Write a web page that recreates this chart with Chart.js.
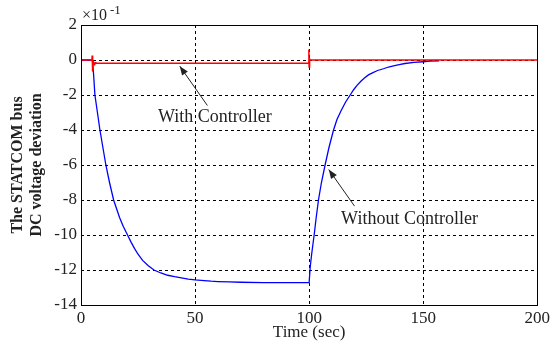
<!DOCTYPE html>
<html>
<head>
<meta charset="utf-8">
<script src="https://cdn.jsdelivr.net/npm/chart.js@4"></script>
<style>
  html, body { margin: 0; padding: 0; background: #fff; }
  canvas { display: block; }
</style>
</head>
<body>
<canvas id="myChart" width="553" height="343"></canvas>
<script>
"use strict";

// tick labels
const xTicks = [0, 50, 100, 150, 200];
const yTicks = [2, 0, -2, -4, -6, -8, -10, -12, -14];

// without controller (blue), units of 1e-1
const blueT = [0, 5, 5.5, 6.1, 7.2, 8.3, 9.6, 10.9, 12.5, 14.3, 16.9, 18.5, 20.4, 22, 23.5, 25, 27, 29.5, 32, 35, 38, 41, 44, 47, 50,
    54, 57, 60, 65, 70, 80, 100,
    100.5, 101.2, 102.2, 103.1, 104.1, 105.4, 107, 108.7, 110.7, 112.2, 114, 116, 118, 119.5, 121, 122.8, 124.5, 126, 128, 130,
    132.6, 134.8, 137, 139.5, 142, 146, 150, 153, 157];
const blueV = [0, 0, -0.8, -2, -3, -4, -5, -6, -7, -8, -9, -9.5, -10, -10.42, -10.78, -11.1, -11.45, -11.76, -12, -12.17, -12.3, -12.38, -12.45, -12.52, -12.57,
    -12.61, -12.64, -12.66, -12.68, -12.7, -12.72, -12.72,
    -11.8, -11, -10, -9, -8, -7, -6, -5, -4, -3.4, -2.9, -2.4, -2, -1.7, -1.45, -1.2, -1.0, -0.85, -0.72, -0.6,
    -0.5, -0.4, -0.33, -0.26, -0.2, -0.14, -0.1, -0.07, -0.05];

// with controller (red)
const redT = [0, 4.8, 4.9, 5.0, 5.1, 5.2, 5.4, 6, 6.3, 7, 99.8, 99.9, 100, 100.1, 100.3, 100.6, 200];
const redV = [0, 0, 0.26, -0.65, 0.2, -0.5, -0.1, -0.25, -0.15, -0.18, -0.18, 0.6, -0.4, 0.1, 0, 0, 0];

const serif = "'Liberation Serif', 'Times New Roman', serif";

// labels with arrows, in data units
const notes = [
    { text: "With Controller", tx: 58.7, ty: -3.29, ax: 55.4, ay: -2.6, hx: 43.3, hy: -0.35 },
    { text: "Without Controller", tx: 144, ty: -9.11, ax: 119.9, ay: -8.35, hx: 108.6, hy: -6.26 }
];

function toPoints(xs, ys) {
    return xs.map((x, i) => ({ x: x, y: ys[i] }));
}

const extras = {
    id: "extras",
    beforeDraw(chart) {
        const ctx = chart.ctx;
        ctx.save();
        ctx.fillStyle = "#fff";
        ctx.fillRect(0, 0, chart.width, chart.height);
        ctx.restore();
    },
    afterDraw(chart) {
        const ctx = chart.ctx;
        const a = chart.chartArea;
        const xs = chart.scales.x;
        const ys = chart.scales.y;
        ctx.save();

        // box
        ctx.strokeStyle = "#000";
        ctx.lineWidth = 1;
        ctx.strokeRect(Math.round(a.left) + 0.5, Math.round(a.top) + 0.5,
            Math.round(a.right - a.left), Math.round(a.bottom - a.top));

        ctx.fillStyle = "#222";
        // x title
        ctx.font = "17px " + serif;
        ctx.textAlign = "center";
        ctx.textBaseline = "middle";
        ctx.fillText("Time (sec)", (a.left + a.right) / 2, 333);

        // y title
        ctx.save();
        ctx.translate(18, (a.top + a.bottom) / 2);
        ctx.rotate(-Math.PI / 2);
        ctx.font = "bold 16px " + serif;
        ctx.fillText("The STATCOM bus", 0, 0);
        ctx.fillText("DC voltage deviation", 0, 19);
        ctx.restore();

        // exponent
        ctx.textAlign = "left";
        ctx.font = "16px " + serif;
        ctx.fillText("\u00d710", a.left + 1, 16);
        ctx.font = "13px " + serif;
        ctx.fillText("-1", a.left + 29, 11);

        // annotations
        ctx.font = "18px " + serif;
        ctx.textAlign = "center";
        notes.forEach(n => {
            ctx.fillStyle = "#222";
            ctx.fillText(n.text, xs.getPixelForValue(n.tx), ys.getPixelForValue(n.ty));
            const x1 = xs.getPixelForValue(n.ax), y1 = ys.getPixelForValue(n.ay);
            const x2 = xs.getPixelForValue(n.hx), y2 = ys.getPixelForValue(n.hy);
            ctx.strokeStyle = "#222";
            ctx.lineWidth = 1;
            ctx.beginPath();
            ctx.moveTo(x1, y1);
            ctx.lineTo(x2, y2);
            ctx.stroke();
            const ang = Math.atan2(y2 - y1, x2 - x1);
            const len = 9, wid = 3.5;
            ctx.beginPath();
            ctx.moveTo(x2, y2);
            ctx.lineTo(x2 - len * Math.cos(ang) + wid * Math.sin(ang), y2 - len * Math.sin(ang) - wid * Math.cos(ang));
            ctx.lineTo(x2 - len * Math.cos(ang) - wid * Math.sin(ang), y2 - len * Math.sin(ang) + wid * Math.cos(ang));
            ctx.closePath();
            ctx.fill();
        });
        ctx.restore();
    }
};

const ctx = document.getElementById("myChart").getContext("2d");
new Chart(ctx, {
    type: "scatter",
    data: {
        datasets: [{
            label: "With Controller",
            data: toPoints(redT, redV),
            showLine: true,
            borderColor: "rgb(255,0,0)",
            borderWidth: 1.5,
            pointRadius: 0,
            tension: 0
        }, {
            label: "Without Controller",
            data: toPoints(blueT, blueV),
            showLine: true,
            borderColor: "rgb(0,0,255)",
            borderWidth: 1.3,
            pointRadius: 0,
            tension: 0
        }]
    },
    options: {
        responsive: false,
        animation: false,
        layout: { padding: { left: 0, top: 25, right: 14, bottom: 0 } },
        plugins: {
            legend: { display: false },
            tooltip: { enabled: false }
        },
        scales: {
            x: {
                type: "linear",
                min: 0,
                max: 200,
                afterBuildTicks: s => { s.ticks = xTicks.map(v => ({ value: v })); },
                afterFit: s => { s.height = 38; },
                border: { display: false, dash: [3, 3] },
                grid: {
                    color: "#000",
                    lineWidth: 1,
                    drawTicks: false
                },
                ticks: {
                    color: "#222",
                    padding: 3,
                    maxRotation: 0,
                    font: { family: serif, size: 17 }
                }
            },
            y: {
                type: "linear",
                min: -14,
                max: 2,
                afterBuildTicks: s => { s.ticks = yTicks.map(v => ({ value: v })); },
                afterFit: s => { s.width = 81; },
                border: { display: false, dash: [3, 3] },
                grid: {
                    color: "#000",
                    lineWidth: 1,
                    drawTicks: false
                },
                ticks: {
                    color: "#222",
                    padding: 4,
                    font: { family: serif, size: 17 }
                }
            }
        }
    },
    plugins: [extras]
});
</script>
</body>
</html>
